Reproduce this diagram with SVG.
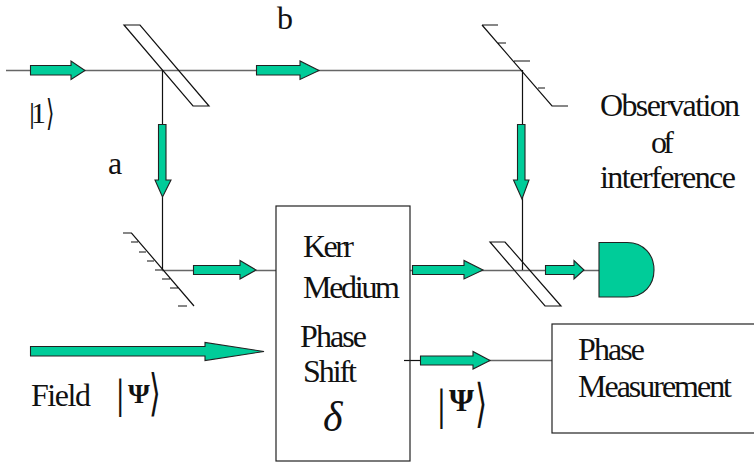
<svg xmlns="http://www.w3.org/2000/svg" width="754" height="463" viewBox="0 0 754 463">
<style>
.l{fill:none;stroke:#111;stroke-width:1.2}
.g{fill:none;stroke:#666;stroke-width:1.6}
.a{fill:#00cc99;stroke:#222;stroke-width:1.1;stroke-linejoin:miter}
.t{font-family:"Liberation Serif","Times New Roman",serif;font-size:32px;fill:#111}
.k{font-family:"DejaVu Sans",sans-serif;fill:#111}
</style>
<rect width="754" height="463" fill="#fff"/>
<g id="connectors">
<path class="g" d="M6 70.500H522M162 270.500H276M410 270.500H599"/>
<path class="l" d="M162.500 70V124M162.500 197V270M522.500 70V124M522.500 197V270"/>
<path class="g" d="M420 360.500H552"/><path class="l" d="M404 360.500H422"/>
<path class="a" d="M30.500 65.500H71V61L85 70.500L71 79.500V75H30.500Z"/>
<path class="a" d="M256.500 65.500H300V61L319 70.500L300 79.500V75H256.500Z"/>
<path class="a" d="M158.500 124.500H166V180H171L162.500 197L155 180H158.500Z"/>
<path class="a" d="M517.500 124.500H525V180H529L522 199L513.500 180H517.500Z"/>
<path class="a" d="M193.500 265.500H240V260.500L256 270L240 279V274.500H193.500Z"/>
<path class="a" d="M412.500 265.500H464V260.500L483 270L464 279V274.500H412.500Z"/>
<path class="a" d="M545.500 265.500H574V260.500L584 270L574 279V274.500H545.500Z"/>
<path class="a" d="M420.500 356H473V351.500L490 360.500L473 369V365H420.500Z"/>
<path class="a" d="M30.500 346.500H205V342.500L264 351.500L205 360.500V356H30.500Z"/>
</g>
<g id="beam-splitter-1"><path class="l" d="M124 25H140L209 106H193Z"/></g>
<g id="mirror-top"><path class="l" d="M482 25H498M482 25L552 106H568M498 43H506M514 61H530M538 88H545"/></g>
<g id="mirror-bottom"><path class="l" d="M123 233H131.500L194 306M131 242H138M139 252H146M147 261H154M155 270H162M162 279H170M170 288H178M178 306H187"/></g>
<g id="beam-splitter-2"><path class="l" d="M490 242H505L561 306H545Z"/></g>
<g id="detector"><path class="a" d="M599 242.500H627C644 242.500 654 255 654 270C654 285 644 297 627 297H599Z"/></g>
<g id="kerr-medium"><rect x="276" y="206" width="134" height="255" fill="none" stroke="#222" stroke-width="1.2"/>
<text class="t" x="303" y="257" textLength="51" lengthAdjust="spacing">Kerr</text>
<text class="t" x="303" y="298" textLength="97" lengthAdjust="spacing">Medium</text>
<text class="t" x="300" y="347" textLength="67" lengthAdjust="spacing">Phase</text>
<text class="t" x="303" y="382" textLength="54" lengthAdjust="spacing">Shift</text>
<text x="323" y="431" style="font-family:'Liberation Serif',serif;font-style:italic;font-size:42px;fill:#111">δ</text></g>
<g id="phase-measurement"><rect x="552" y="324" width="203" height="109" fill="none" stroke="#222" stroke-width="1.2"/>
<text class="t" x="578" y="360" textLength="67" lengthAdjust="spacing">Phase</text>
<text class="t" x="578" y="397" textLength="154" lengthAdjust="spacing">Measurement</text></g>
<g id="labels">
<text class="t" x="277" y="29">b</text>
<text class="t" x="108" y="174">a</text>
<text class="t" x="600" y="116" textLength="140" lengthAdjust="spacing">Observation</text>
<text class="t" x="651" y="153" textLength="23" lengthAdjust="spacing">of</text>
<text class="t" x="600" y="188" textLength="136" lengthAdjust="spacing">interference</text>
<text class="t" x="31" y="406" textLength="60" lengthAdjust="spacing">Field</text>
<text class="t" x="29" y="123" textLength="17" lengthAdjust="spacing" style="font-size:30px">|1</text>
<text class="k" transform="translate(46 125) scale(.6 1)" font-size="36">⟩</text>
<text class="t" x="116" y="408" style="font-size:42px">|</text>
<text class="t" x="128" y="403" style="font-size:28px" font-weight="bold">Ψ</text>
<text class="k" transform="translate(149 410) scale(.6 1)" font-size="50">⟩</text>
<text class="t" x="437" y="420" style="font-size:44px">|</text>
<text class="t" x="449" y="411" textLength="26" lengthAdjust="spacing" font-weight="bold">Ψ'</text>
<text class="k" transform="translate(475 421) scale(.6 1)" font-size="52">⟩</text>
</g>
</svg>
